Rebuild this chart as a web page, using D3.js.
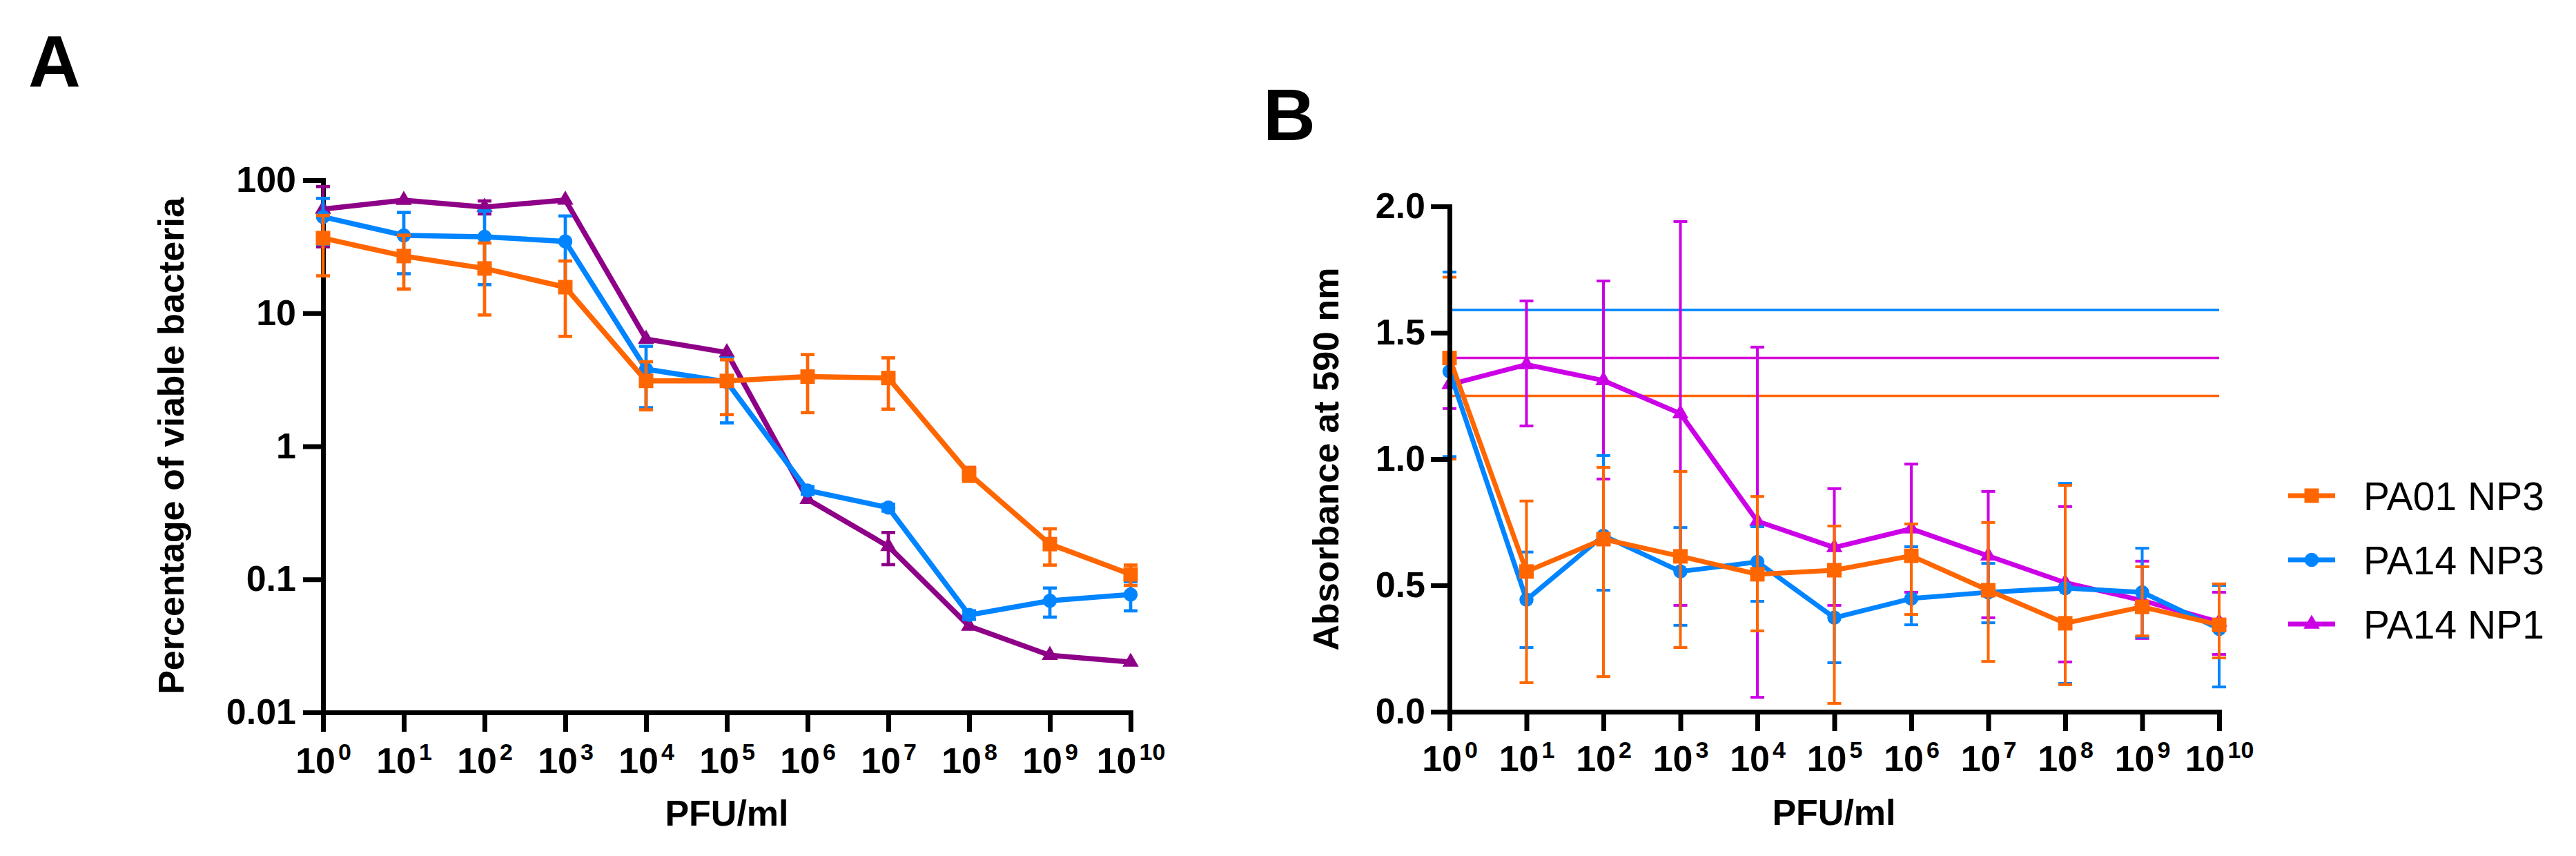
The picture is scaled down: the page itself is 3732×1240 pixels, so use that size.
<!DOCTYPE html>
<html>
<head>
<meta charset="utf-8">
<script src="https://cdn.jsdelivr.net/npm/d3@7"></script>
<style>
  body { margin: 0; background: #fff; }
  svg { display: block; font-family: "Liberation Sans", Arial, sans-serif; }
</style>
</head>
<body>
<div id="chart"></div>
<script>
// x positions: PFU/ml = 10^exponent
const exponents = [0, 1, 2, 3, 4, 5, 6, 7, 8, 9, 10];

// Panel A: percentage of viable bacteria (mean and SD)
const viablePA01NP3 = [36.7, 26.9, 21.7, 15.7, 3.1, 3.1, 3.34, 3.26, 0.62, 0.184, 0.109];
const viablePA01NP3Sd = [17.6, 11.7, 12.0, 9.0, 1.22, 1.37, 1.55, 1.36, 0.075, 0.056, 0.019];
const viablePA14NP3 = [53, 38.5, 37.6, 34.6, 3.8, 3.05, 0.466, 0.346, 0.054, 0.069, 0.077];
const viablePA14NP3Sd = [20, 18.7, 21.2, 19.2, 1.85, 1.55, 0.03, 0.02, 0.004, 0.017, 0.019];
const viablePA14NP1 = [60.6, 70.8, 62.8, 71, 6.4, 5.07, 0.40, 0.177, 0.0445, 0.0269, 0.0239];
const viablePA14NP1Sd = [29, 0, 7, 0, 0, 0, 0, 0.048, 0, 0, 0];
const yTicksA = [0.01, 0.1, 1, 10, 100];
const yTickLabelsA = ["0.01", "0.1", "1", "10", "100"];

// Panel B: absorbance at 590 nm (mean, lower and upper bar ends)
const absPA01NP3 = [1.40, 0.555, 0.683, 0.615, 0.544, 0.560, 0.617, 0.481, 0.350, 0.415, 0.344];
const absPA01NP3Lo = [1.00, 0.115, 0.139, 0.254, 0.320, 0.033, 0.385, 0.199, 0.107, 0.300, 0.213];
const absPA01NP3Hi = [1.72, 0.834, 0.967, 0.951, 0.852, 0.735, 0.743, 0.749, 0.896, 0.574, 0.506];
const absPA14NP3 = [1.347, 0.443, 0.697, 0.555, 0.593, 0.372, 0.448, 0.473, 0.489, 0.473, 0.328];
const absPA14NP3Lo = [1.01, 0.254, 0.481, 0.342, 0.437, 0.194, 0.344, 0.352, 0.112, 0.295, 0.098];
const absPA14NP3Hi = [1.74, 0.632, 1.014, 0.729, 0.732, 0.55, 0.653, 0.587, 0.904, 0.647, 0.50];
const absPA14NP1 = [1.295, 1.374, 1.311, 1.180, 0.754, 0.650, 0.724, 0.617, 0.511, 0.44, 0.355];
const absPA14NP1Lo = [1.20, 1.131, 0.921, 0.421, 0.057, 0.421, 0.473, 0.372, 0.197, 0.29, 0.227];
const absPA14NP1Hi = [1.39, 1.626, 1.705, 1.940, 1.443, 0.883, 0.980, 0.872, 0.812, 0.596, 0.473];
const yTicksB = [0, 0.5, 1, 1.5, 2];
const yTickLabelsB = ["0.0", "0.5", "1.0", "1.5", "2.0"];
// untreated control levels drawn as horizontal lines
const controlLevels = [1.25, 1.59, 1.40];

const seriesNames = ["PA01 NP3", "PA14 NP3", "PA14 NP1"];
const orange = "#ff6600", blue = "#0084ff", purple = "#8e0087", magenta = "#cc00e6";

const svg = d3.select("#chart").append("svg")
  .attr("width", 3732)
  .attr("height", 1240);
svg.append("rect").attr("width", 3732).attr("height", 1240).attr("fill", "#fff");

function styleAxis(ax) {
  ax.attr("font-family", null).attr("font-size", 52).attr("font-weight", "bold");
  ax.select(".domain").attr("stroke-width", 7).attr("stroke-linecap", "square");
  ax.selectAll(".tick line").attr("stroke-width", 7);
}

function drawXAxis(x, y0, labelY) {
  const ax = svg.append("g")
    .attr("transform", `translate(0,${y0})`)
    .call(d3.axisBottom(x).tickValues(exponents).tickSize(28).tickSizeOuter(0).tickFormat(() => ""));
  styleAxis(ax);
  ax.selectAll(".tick text")
    .attr("y", labelY)
    .attr("dy", null)
    .each(function (d) {
      const t = d3.select(this);
      t.text(null);
      t.append("tspan").text("10");
      t.append("tspan").attr("dx", 4).attr("dy", -19).attr("font-size", 34).text(d);
    });
}

function drawYAxis(y, x0, ticks, labels, size, pad) {
  const ax = svg.append("g")
    .attr("transform", `translate(${x0},0)`)
    .call(d3.axisLeft(y).tickValues(ticks).tickSize(size).tickPadding(pad).tickSizeOuter(0)
      .tickFormat((d, i) => labels[i]));
  styleAxis(ax);
}

// draw one series: error bars, connecting line, markers
function drawSeries(x, y, pts, color, symbol, lineW, barW) {
  const g = svg.append("g");
  pts.filter(p => p.hi > p.lo).forEach(p => {
    g.append("line")
      .attr("x1", x(p.i)).attr("x2", x(p.i))
      .attr("y1", y(p.lo)).attr("y2", y(p.hi))
      .attr("stroke", color).attr("stroke-width", barW);
    [p.lo, p.hi].forEach(v => {
      g.append("line")
        .attr("x1", x(p.i) - 10).attr("x2", x(p.i) + 10)
        .attr("y1", y(v)).attr("y2", y(v))
        .attr("stroke", color).attr("stroke-width", barW);
    });
  });
  g.append("path")
    .datum(pts)
    .attr("fill", "none")
    .attr("stroke", color)
    .attr("stroke-width", lineW)
    .attr("stroke-linejoin", "round")
    .attr("d", d3.line().x(d => x(d.i)).y(d => y(d.mean)));
  g.selectAll(".mk")
    .data(pts)
    .enter()
    .append("path")
    .attr("transform", d => `translate(${x(d.i)},${y(d.mean)})`)
    .attr("d", symbol)
    .attr("fill", color);
}

const square = d3.symbol().type(d3.symbolSquare).size(441)();
const circle = d3.symbol().type(d3.symbolCircle).size(330)();
const triangle = d3.symbol().type(d3.symbolTriangle).size(240)();

// ---------- Panel A ----------
const xA = d3.scaleLinear().domain([0, 10]).range([468, 1638]);
const yA = d3.scaleLog().domain([0.01, 100]).range([1032, 261]);

drawXAxis(xA, 1032, 88);
drawYAxis(yA, 468, yTicksA, yTickLabelsA, 29, 10);

const ptsA = (m, sd) => exponents.map((e, i) => ({ i: e, mean: m[i], lo: m[i] - sd[i], hi: m[i] + sd[i] }));
drawSeries(xA, yA, ptsA(viablePA14NP1, viablePA14NP1Sd), purple, triangle, 7.5, 4.7);
drawSeries(xA, yA, ptsA(viablePA14NP3, viablePA14NP3Sd), blue, circle, 7.5, 4.7);
drawSeries(xA, yA, ptsA(viablePA01NP3, viablePA01NP3Sd), orange, square, 7.5, 4.7);

svg.append("text").attr("x", 41).attr("y", 126)
  .attr("font-size", 105).attr("font-weight", "bold").text("A");
svg.append("text")
  .attr("transform", "translate(266,646) rotate(-90)")
  .attr("text-anchor", "middle").attr("font-size", 52).attr("font-weight", "bold")
  .text("Percentage of viable bacteria");
svg.append("text").attr("x", 1053).attr("y", 1196)
  .attr("text-anchor", "middle").attr("font-size", 52).attr("font-weight", "bold")
  .text("PFU/ml");

// ---------- Panel B ----------
const xB = d3.scaleLinear().domain([0, 10]).range([2100, 3215]);
const yB = d3.scaleLinear().domain([0, 2]).range([1031, 299]);

const controlColors = [orange, blue, "#d600d6"];
svg.append("g").selectAll("line")
  .data(controlLevels)
  .enter()
  .append("line")
  .attr("x1", xB(0)).attr("x2", xB(10))
  .attr("y1", d => yB(d)).attr("y2", d => yB(d))
  .attr("stroke", (d, i) => controlColors[i])
  .attr("stroke-width", 3.5);

const ptsB = (m, lo, hi) => exponents.map((e, i) => ({ i: e, mean: m[i], lo: lo[i], hi: hi[i] }));
drawSeries(xB, yB, ptsB(absPA14NP1, absPA14NP1Lo, absPA14NP1Hi), magenta, triangle, 7, 4);
drawSeries(xB, yB, ptsB(absPA14NP3, absPA14NP3Lo, absPA14NP3Hi), blue, circle, 7, 4);
drawSeries(xB, yB, ptsB(absPA01NP3, absPA01NP3Lo, absPA01NP3Hi), orange, square, 7, 4);

drawXAxis(xB, 1031, 86);
drawYAxis(yB, 2100, yTicksB, yTickLabelsB, 27, 8);

svg.append("text").attr("x", 1830).attr("y", 203)
  .attr("font-size", 105).attr("font-weight", "bold").text("B");
svg.append("text")
  .attr("transform", "translate(1939,665) rotate(-90)")
  .attr("text-anchor", "middle").attr("font-size", 52).attr("font-weight", "bold")
  .text("Absorbance at 590 nm");
svg.append("text").attr("x", 2657).attr("y", 1195)
  .attr("text-anchor", "middle").attr("font-size", 52).attr("font-weight", "bold")
  .text("PFU/ml");

// ---------- Legend ----------
const legendColors = [orange, blue, magenta];
const legendSymbols = [square, circle, triangle];
const legend = svg.append("g").selectAll("g")
  .data(seriesNames)
  .enter()
  .append("g")
  .attr("transform", (d, i) => `translate(0,${718 + i * 93})`);
legend.append("line")
  .attr("x1", 3315).attr("x2", 3383)
  .attr("stroke", (d, i) => legendColors[i]).attr("stroke-width", 7);
legend.append("path")
  .attr("transform", "translate(3349,0)")
  .attr("d", (d, i) => legendSymbols[i])
  .attr("fill", (d, i) => legendColors[i]);
legend.append("text")
  .attr("x", 3424).attr("dy", "0.36em")
  .attr("font-size", 57)
  .text(d => d);
</script>
</body>
</html>
